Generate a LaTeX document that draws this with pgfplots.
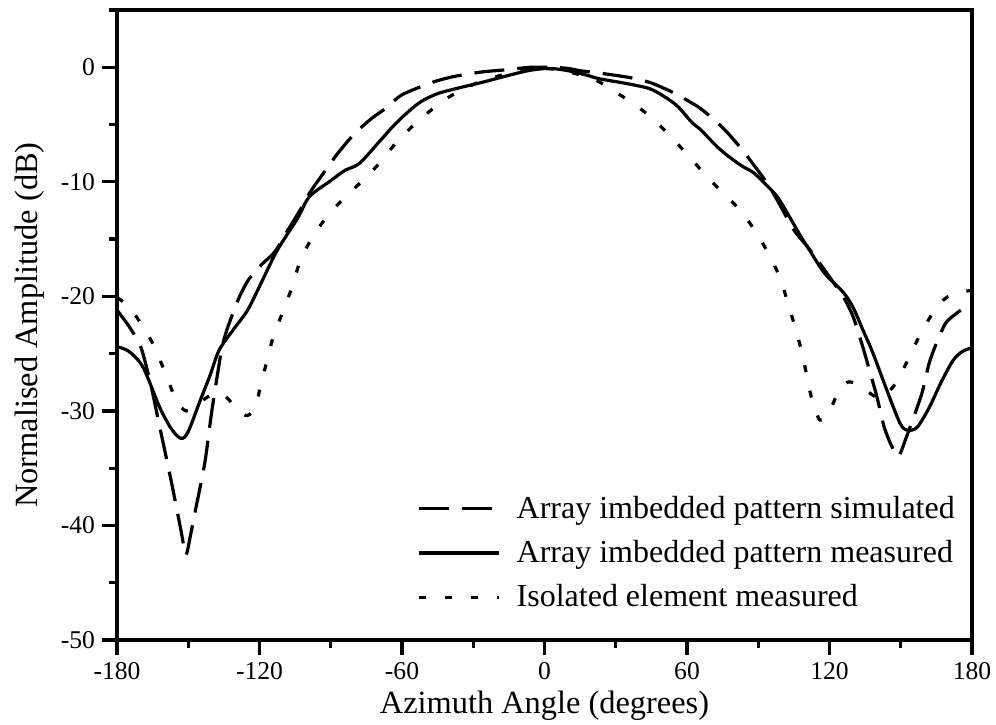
\documentclass[border=0pt]{standalone}
\usepackage{fontspec}
\setmainfont{Liberation Serif}
\usepackage{pgfplots}
\pgfplotsset{compat=1.18}
\begin{document}
\begin{tikzpicture}
\begin{axis}[
  scale only axis,
  width=427.5pt, height=315pt,
  xmin=-180, xmax=180, ymin=-50, ymax=5,
  axis line style={line width=1.6pt},
  every tick/.style={line width=1.6pt, black},
  tick align=outside,
  major tick length=7.5pt, minor tick length=4pt,
  xtick={-180,-120,-60,0,60,120,180},
  minor xtick={-150,-90,-30,30,90,150},
  ytick={-50,-40,-30,-20,-10,0},
  minor ytick={-45,-35,-25,-15,-5,5},
  xtick pos=left, ytick pos=left,
  /pgf/number format/assume math mode=true,
  ticklabel style={font=\fontsize{12.8}{14}\selectfont},
  xlabel={Azimuth Angle (degrees)},
  ylabel={Normalised Amplitude (dB)},
  every axis x label/.style={at={(axis description cs:0.5,0)}, anchor=base, yshift=-36.5pt, font=\fontsize{16.2}{19}\selectfont},
  every axis y label/.style={at={(axis description cs:-0.1018,0.5)}, anchor=center, rotate=90, font=\fontsize{16.2}{19}\selectfont},
  legend style={draw=none, fill=none, at={(rel axis cs:0.344,0.138)}, anchor=west,
    font=\fontsize{16}{19}\selectfont, row sep=5.5pt},
  legend cell align=left,
  legend image code/.code={\draw[#1] (0pt,0pt) -- (40pt,0pt); \path (46pt,0pt);},
]
\addplot[black, line width=1.6pt, dash pattern=on 15pt off 6.5pt, smooth, tension=0.4] coordinates {
(-180,-21.2) (-175,-22.6) (-170,-24.4) (-166,-27.5) (-162,-31.4) (-157,-36.3) (-153,-40.5) (-151,-42.6)
(-149,-40.8) (-147,-38.7) (-143,-34.5) (-140,-29.9) (-136,-24.7) (-133.7,-22.9) (-129,-20.3) (-124.8,-18.6)
(-119,-17.2) (-113.5,-16.1)
(-108,-14.2) (-103,-12.5) (-99,-11) (-96,-10.1) (-87,-7.5) (-80,-5.8) (-73,-4.5) (-67,-3.6) (-60,-2.4)
(-47,-1.3) (-38,-0.8) (-26,-0.4) (-15,-0.2) (-6,0) (3,0) (10,-0.1) (15,-0.3) (23,-0.5) (36,-0.9)
(44,-1.3) (50,-1.8) (56,-2.4) (65,-3.5) (71,-4.5) (77,-5.7) (84,-7.4) (93,-9.9) (98,-11.6) (105,-14.2)
(112,-16) (121,-18.6) (126,-20.1) (130,-21.8) (134,-24.4) (138,-27.3) (140,-28.8) (143,-31.4) (146,-33)
(149,-34) (152,-32.5) (155,-30.8) (159,-28.4) (162,-25.8) (165,-24.1) (169,-22.3) (174,-21.4) (177,-21) (180,-21.2)
};
\addlegendentry{Array imbedded pattern simulated}
\addplot[black, line width=1.6pt, smooth, tension=0.5] coordinates {
(-180,-24.4) (-175,-24.8) (-169,-26.2) (-162,-29.7) (-157,-31.6) (-153,-32.4) (-150,-31.8) (-145,-29.1)
(-141,-27.0) (-137,-24.7) (-131,-22.9) (-125,-21.2) (-119,-18.7) (-112.6,-16.0) (-104,-13.2) (-99,-11.3)
(-90,-9.9) (-84,-9.0) (-78,-8.4) (-70,-6.6) (-64,-5.2) (-58,-4.0) (-52,-3.0) (-45,-2.3) (-36,-1.8)
(-26,-1.3) (-15,-0.7) (-6,-0.26) (2,-0.1) (10,-0.3) (18,-0.7) (23,-1.0) (34,-1.4) (44,-1.85) (50,-2.5)
(56,-3.4) (62,-4.8) (66,-5.5) (72,-6.8) (77,-7.7) (83,-8.6) (88,-9.2) (93,-10.2) (98,-11.3) (103,-13.0)
(108,-14.8) (112,-16.1) (118,-18.0) (126,-19.7) (130,-21.0) (134,-22.9) (138,-24.8) (142,-27) (146,-29.2)
(150,-31.2) (153,-31.7) (157,-31.4) (162,-29.7) (167,-27.5) (172,-25.6) (176,-24.8) (180,-24.5)
};
\addlegendentry{Array imbedded pattern measured}
\addplot[black, line width=1.6pt, dash pattern=on 3.5pt off 9.5pt, smooth, tension=0.5] coordinates {
(-180,-20.1) (-175,-20.9) (-169.5,-22.5) (-165,-24.1) (-160,-26.5) (-155,-29.1) (-151,-30.0) (-147,-29.6)
(-142,-28.8) (-137,-28.4) (-133,-29.0) (-129,-30.0) (-125,-30.4) (-121.5,-29.6) (-119.6,-27.8) (-116.8,-25.6)
(-114.3,-23.6) (-110.1,-21.3) (-106.3,-19.2) (-103,-17.0) (-97.9,-14.9) (-90.3,-12.7) (-80.6,-10.7)
(-70.5,-8.6) (-61.7,-6.4) (-51.6,-4.4) (-41,-2.7) (-30,-1.5) (-20,-0.8) (-10,-0.3) (0,-0.1) (10,-0.4)
(21.3,-1.1) (31,-2.3) (41.5,-3.8) (51.6,-5.7) (61.3,-7.9) (70.5,-10) (80.2,-12) (87.8,-14) (94.1,-16.2)
(99.2,-18.4) (102.5,-20.6) (105.5,-22.7) (108.4,-24.9) (110.5,-27) (112.6,-29) (116,-30.8) (120,-30.0)
(123.2,-28.6) (127.5,-27.5) (132,-27.7) (136,-28.3) (141,-28.9) (145,-28.3) (148.8,-27.3) (154,-25.1)
(159,-23) (165.3,-20.9) (170,-20.0) (175,-19.6) (180,-19.5)
};
\addlegendentry{Isolated element measured}
\end{axis}
\pgfresetboundingbox
\path[use as bounding box] ([shift={(-58.5pt,-42pt)}]current axis.south west) rectangle ([shift={(12pt,5pt)}]current axis.north east);
\end{tikzpicture}
\end{document}
